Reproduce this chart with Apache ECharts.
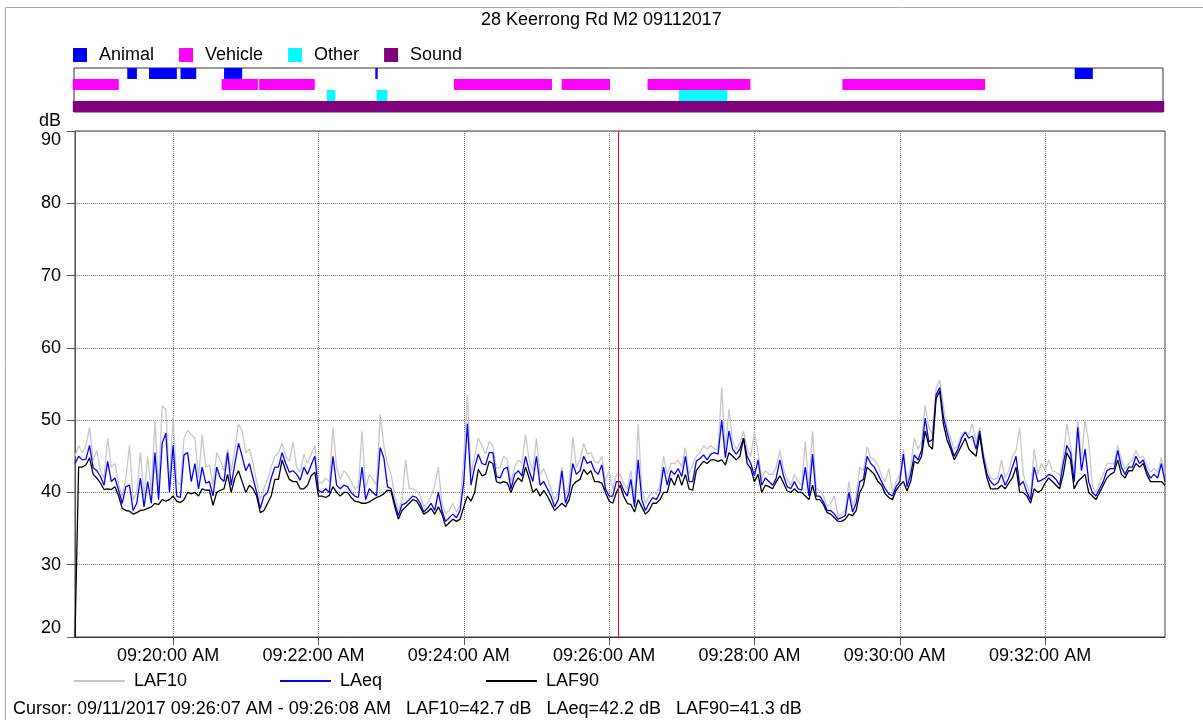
<!DOCTYPE html>
<html>
<head>
<meta charset="utf-8">
<script src="https://cdn.jsdelivr.net/npm/echarts@6/dist/echarts.min.js"></script>
<style>html,body{margin:0;padding:0;background:#fff;}#chart{width:1203px;height:720px;}</style>
</head>
<body>
<div id="chart"></div>
<script>
// ---- data ----
const chartTitle = '28 Keerrong Rd M2 09112017';
const startTime = '09:18:39';
const endTime = '09:33:39';
const stepSeconds = 3;
const yTicks = [20, 30, 40, 50, 60, 70, 80, 90];
const xTickTimes = ['09:20:00', '09:22:00', '09:24:00', '09:26:00', '09:28:00', '09:30:00', '09:32:00'];
const seriesNames = ['LAF10', 'LAeq', 'LAF90'];
const eventCategories = ['Animal', 'Vehicle', 'Other', 'Sound'];

const LAeq = [
44,45,44.5,44.6,46.5,43.4,43,42.2,41,44.3,
41.5,42,40.3,38.5,40.8,41,37.5,38.5,42,38,
41.5,38.5,45.5,39,46.8,48.2,40,46.5,39.5,39.3,
45.2,45.5,41.5,44,40.5,43.5,41.3,41.5,39.5,43.5,
42,41.5,45.5,41,44,46.8,45,43,44,42,
40,37.8,39.5,40,42,43.5,43.5,45.5,44,42.8,
43,42.5,41.7,43.5,42.5,43.8,45,40.3,40,40.5,
40,45,41,40.5,41,40.8,40,39.5,39.3,43.5,
39,40.5,40,39.5,46.2,44.8,40.8,40.5,38.5,36.8,
38.3,38.5,39,39.5,39.3,38.5,37.3,37.8,38.5,37.5,
40,37.5,36,36.5,37,36.5,37.5,41.5,49.5,41,
43.5,45.3,44,43.8,45.5,45.5,42.2,42,43.2,43.5,
40.5,42.5,43,42.3,45,43,41.5,45,41,41.5,
40.5,39.5,38,39,43,38.5,40,44,42.5,43,
45,44,44.3,43,42.5,43.8,40.5,39.5,39.5,41.5,
41.5,40.3,39.5,41.8,38,44.5,39,37.5,38.5,39.3,
39,40,43.5,41,43,42.5,43.3,42.2,45,41.5,
41.5,44.3,44.7,45.2,44.5,45.3,45.5,45.3,50,44.8,
48.5,46,45.3,46,47.5,45,44,42.3,44.5,41,
42,41.5,41,42,44.5,42.3,40.8,40.5,41.5,40.5,
40.3,43.5,39.5,45.3,39.5,39.5,38.7,37.5,37.5,37,
36.3,36.5,36.8,40,37.3,38.5,41.5,41.8,45,44,
43.5,42.5,41.5,40.5,39.8,39.5,40.8,41.5,45.3,40.8,
42.5,45.2,44.5,45.8,50.3,47,47.3,53.5,54.5,50.5,
48.3,46.5,45,46,47.5,48.3,47.5,47.8,46,48.5,
45,42.5,41.5,41,41.3,42.5,41,42,43.5,45,
41,41.5,40,39,43.5,41.5,41.7,42,42.5,42.3,
41.8,41,44,46.5,45.5,41.5,49,43,46,41.5,
40,39.5,40.5,41.5,43,43.3,43.3,45.8,43.5,42.5,
43.5,43.5,45,44,44.5,43,42,42.5,42,44,41.5
];

const LAF90 = [
20,43.5,43.5,43.8,44.8,42.5,42,41.3,40.4,40.5,
40.4,40.8,39.5,37.8,37.5,37.4,37,37.2,37.5,37.6,
37.8,38,38.5,38.3,39,38.8,39,39.5,38.8,38.6,
39,40,39.8,40,39.5,40.5,40.3,40.3,38.2,40,
40.3,40.5,42.5,40,42,43,41.5,40,41,40.5,
39.5,37.2,37.5,38.5,39.5,41.8,41.8,44.5,43,41.8,
41.5,41.5,40.5,40.5,41,42.3,42.8,39.5,39.5,39.3,
39.6,40.8,40,39.5,40,40,39.3,38.8,38.7,38.5,
38.5,38.7,39,39.3,39.5,39.8,40.3,40.2,38,36.3,
37.5,38,38.5,39,38.8,38,37,37.3,37.8,37,
38,37,35.3,35.8,36.3,36,36.3,38,39.5,38.8,
40,43.2,42.3,42.5,44.3,44,41.5,41.3,41.5,41.3,
40,41.3,42,41.5,43.5,42,40,40.5,39.5,40.3,
39.5,38.5,37.5,38,38.5,38,39,41,41.5,41.8,
43.2,42.5,43,41.5,41.5,41.3,40,38.8,38.5,40,
41,39.5,38.5,38.3,37.3,39,38,37,37.5,38.5,
38.5,39,40,40,42,41,42.5,41,42.5,40.5,
40.3,43,43.7,44.3,44,44.5,44.5,44.3,44.5,43.8,
45.5,45,44.5,45,47.5,44,43.3,41.5,42.5,40,
41,40.8,40.5,41.5,42.3,41.3,40.2,40,40.5,40,
40,39.5,39,41,39,39,38.3,37.2,37,36.5,
36,36,36.3,37,36.8,37.5,40,41,43.5,43,
42.5,41.5,41,39.8,39.3,39,40.3,41,41.5,40.2,
41.5,44.3,44,45,48.5,46.5,46,53,54,49.5,
47.3,46,44.5,45.5,46.5,47.5,46,45.5,45,48,
44.5,42,40.5,40.5,40.5,41,40.5,41.3,42,43.5,
40,40,39.5,38.5,40.5,40,40.3,41.3,42,41.5,
41,40.5,42.5,45.5,44.5,40.5,41.5,42,42.5,40,
39.5,39,40,41,42,42.5,42.8,44.5,42.5,42,
43,43,44,43.5,44,42.5,41.5,41.5,41.5,41.5,41
];

const LAF10 = [
45,46.5,45.5,46.5,49,44.5,45.8,43,42,47.5,
43.5,44,41,39.5,42,46.5,39,40,45.5,39.5,
45,40,50,40.5,52,51.5,41,50.5,41.5,41,
47.5,48.6,48,47.5,42,48,43.5,43.8,41,45.5,
44.5,43,46,43,46,49.5,48.5,45.5,46,44,
41.5,39,40.5,41.8,43.5,45,45.5,46.8,45,44.3,
47,43.5,42.8,45.3,44,45.3,46.5,41.5,41.3,42,
41.5,49,43.5,41.8,43,42.5,41.5,40.5,40.8,48.5,
40.5,42.5,41.8,41,50.8,46.5,44,42.5,39.5,37.5,
39,44.5,40.5,40.5,40.2,39.5,38,38.5,39.5,41,
43.5,38.5,37,37.5,38.5,37.3,38.3,44.8,53.5,42.5,
45,47.5,46.5,45.3,47,46.5,43.3,43.5,45,44.5,
41.5,43.5,44.5,44,48,44.5,43,47.5,42.5,43.3,
42,40.5,39,40,43.5,39.5,41,47.7,43.5,44.5,
46.8,45.3,45.5,44.3,44,45,41.5,43,40.5,42.5,
42.5,41.3,40.5,43,39,49.5,40.5,38.5,39.5,40,
39.8,41,45,42.5,44,44,44.5,43.5,46.2,42.5,
43.8,45,45.5,46.5,46,46.5,46,46,54.5,46,
51.5,47,46,46.8,48.5,46,45,48.5,45.5,42,
43,42.5,42.5,43.5,45.8,43.3,41.8,41,42.5,41.5,
41,47,40.5,48.5,40.5,40.3,39.5,38,38.5,39.5,
36.8,37,37.5,41.5,38,39.5,43.5,43,46.3,44.8,
44.5,43.8,42.3,41.5,43.3,40,41.5,42.5,46,41.5,
43.5,47.5,46,47,52,49,48,54.5,55.5,52,
49,47.5,46,46.5,48,48.5,48,49.5,47,49,
45.5,43.5,42,41.8,42,44.5,42,43,45,45.8,
49,42.5,41,39.5,46,42.5,44,43,44.5,43,
42.8,42.3,45,49.5,46.5,42.5,50,44.5,50,47,
41,40,41.3,42.5,44,44,44,46.5,44.5,43.3,
44,44.5,45.8,44.8,45,43.8,42.8,43.3,42.8,44.8,42.5
];

// events: [start, end]
const animalEvents = [['09:19:23','09:19:31'],['09:19:41','09:20:04'],['09:20:07','09:20:20'],['09:20:43','09:20:58'],['09:22:48','09:22:50'],['09:32:26','09:32:41']];
const vehicleEvents = [['09:18:38','09:19:16'],['09:20:41','09:21:11'],['09:21:12','09:21:58'],['09:23:53','09:25:14'],['09:25:22','09:26:02'],['09:26:33','09:27:58'],['09:29:14','09:31:12']];
const otherEvents = [['09:22:08','09:22:15'],['09:22:49','09:22:58'],['09:26:59','09:27:39']];
const soundEvents = [['09:18:38','09:33:40']];

const cursorStart = '09:26:07';
const cursorEnd = '09:26:08';
const cursorValues = {LAF10: 42.7, LAeq: 42.2, LAF90: 41.3};
const cursorDate = '09/11/2017';

// ---- helpers ----
function toSec(s) { const p = s.split(':').map(Number); return p[0] * 3600 + p[1] * 60 + p[2]; }
function pad(n) { return (n < 10 ? '0' : '') + n; }
function fmtTime(sec) {
  sec = Math.round(sec);
  let h = Math.floor(sec / 3600), m = Math.floor((sec % 3600) / 60), s = sec % 60;
  const ap = h < 12 ? 'AM' : 'PM';
  let h12 = h % 12; if (h12 === 0) h12 = 12;
  return pad(h12) + ':' + pad(m) + ':' + pad(s) + ' ' + ap;
}
const t0 = toSec(startTime), t1 = toSec(endTime);
const xTicks = xTickTimes.map(toSec);
function toSeries(arr) { return arr.map((v, i) => [t0 + i * stepSeconds, v]); }
function toEvents(cat, list) { return list.map(e => [cat, toSec(e[0]), toSec(e[1])]); }

const FONT = "'Liberation Sans', Arial, sans-serif";
const colors = {Animal: '#0000ff', Vehicle: '#ff00ff', Other: '#00ffff', Sound: '#800080'};

function renderEvent(params, api) {
  const a = api.coord([api.value(1), api.value(0)]);
  const b = api.coord([api.value(2), api.value(0)]);
  const h = api.size([0, 1])[1];
  return {type: 'rect', shape: {x: a[0], y: a[1] - h / 2, width: Math.max(b[0] - a[0], 1.5), height: h}, style: api.style()};
}

const eventSeries = [
  ['Animal', animalEvents], ['Vehicle', vehicleEvents], ['Other', otherEvents], ['Sound', soundEvents]
].map(([name, list]) => ({
  name, type: 'custom', xAxisIndex: 1, yAxisIndex: 1, renderItem: renderEvent,
  itemStyle: {color: colors[name]}, encode: {x: [1, 2], y: 0},
  data: toEvents(name, list), clip: false, silent: true
}));

const cursorX = (toSec(cursorStart) + toSec(cursorEnd)) / 2;
const cursorText = 'Cursor: ' + cursorDate + ' ' + fmtTime(toSec(cursorStart)) + ' - ' + fmtTime(toSec(cursorEnd)) +
  '   LAF10=' + cursorValues.LAF10.toFixed(1) + ' dB   LAeq=' + cursorValues.LAeq.toFixed(1) + ' dB   LAF90=' + cursorValues.LAF90.toFixed(1) + ' dB';

const chart = echarts.init(document.getElementById('chart'), null, {renderer: 'canvas'});
const lineLegend = (name, left) => ({
  data: [name], left, top: 672, padding: 0, icon: 'rect', itemWidth: 51, itemHeight: 2, selectedMode: false,
  textStyle: {fontSize: 18, color: '#000', fontFamily: FONT, padding: [0, 0, 0, 4]}
});
const gridLineStyle = {color: '#7a7a7a', type: 'dotted', width: 1};

chart.setOption({
  animation: false,
  backgroundColor: '#fff',
  title: {text: chartTitle, left: 481, top: 11, padding: 0,
    textStyle: {fontSize: 18, fontWeight: 'normal', color: '#000', fontFamily: FONT}},
  legend: [
    {data: eventCategories, left: 73, top: 46, padding: 0, icon: 'rect', itemWidth: 14, itemHeight: 14, itemGap: 25, selectedMode: false,
      textStyle: {fontSize: 18, color: '#000', fontFamily: FONT, padding: [0, 0, 0, 7]}},
    lineLegend('LAF10', 74), lineLegend('LAeq', 280), lineLegend('LAF90', 486)
  ],
  graphic: [
    {type: 'line', shape: {x1: 5.5, y1: 7.5, x2: 1203, y2: 7.5}, style: {stroke: '#a8a8a8', lineWidth: 1}, silent: true},
    {type: 'line', shape: {x1: 5.5, y1: 7.5, x2: 5.5, y2: 720}, style: {stroke: '#a8a8a8', lineWidth: 1}, silent: true},
    {type: 'text', left: 13, top: 700, style: {text: cursorText, fontSize: 18, fill: '#000', fontFamily: FONT}, silent: true}
  ],
  grid: [
    {left: 75, right: 38, top: 131, bottom: 83, show: true, borderColor: '#404040', borderWidth: 1, containLabel: false},
    {left: 74, right: 40, top: 68, height: 44, show: true, borderColor: '#333', borderWidth: 1, containLabel: false}
  ],
  xAxis: [
    {type: 'value', gridIndex: 0, min: t0, max: t1,
      axisLine: {show: true, lineStyle: {color: '#333', width: 1}},
      axisTick: {show: true, inside: false, length: 8, lineStyle: {color: '#555'}, customValues: xTicks},
      axisLabel: {show: true, customValues: xTicks, margin: 10, fontSize: 18, color: '#000', fontFamily: FONT,
        padding: [0, 10, 0, 0], formatter: v => fmtTime(v)},
      splitLine: {show: true, lineStyle: gridLineStyle}},
    {type: 'value', gridIndex: 1, min: t0, max: t1, show: false}
  ],
  yAxis: [
    {type: 'value', gridIndex: 0, min: yTicks[0], max: yTicks[yTicks.length - 1], interval: yTicks[1] - yTicks[0],
      name: 'dB', nameLocation: 'end', nameGap: 10,
      nameTextStyle: {fontSize: 18, color: '#000', fontFamily: FONT, align: 'right', verticalAlign: 'middle', padding: [0, 14, 0, 0]},
      axisLine: {show: true, lineStyle: {color: '#555', width: 1}},
      axisTick: {show: true, inside: false, length: 8, lineStyle: {color: '#555'}},
      axisLabel: {margin: 14, fontSize: 18, color: '#000', fontFamily: FONT, verticalAlignMaxLabel: 'top', verticalAlignMinLabel: 'bottom'},
      splitLine: {show: true, lineStyle: gridLineStyle}},
    {type: 'category', gridIndex: 1, data: eventCategories, inverse: true, show: false}
  ],
  series: [
    {name: 'LAF10', type: 'line', data: toSeries(LAF10), showSymbol: false, symbol: 'none', z: 2,
      itemStyle: {color: '#c8c8c8'}, lineStyle: {color: '#c8c8c8', width: 1.3}, silent: true},
    {name: 'LAeq', type: 'line', data: toSeries(LAeq), showSymbol: false, symbol: 'none', z: 3,
      itemStyle: {color: '#0000ff'}, lineStyle: {color: '#0000ff', width: 1.3}, silent: true,
      markLine: {silent: true, symbol: ['none', 'none'], label: {show: false},
        lineStyle: {color: '#ff0000', width: 1, type: 'solid'}, data: [{xAxis: cursorX}]}},
    {name: 'LAF90', type: 'line', data: toSeries(LAF90), showSymbol: false, symbol: 'none', z: 4,
      itemStyle: {color: '#000000'}, lineStyle: {color: '#000000', width: 1.3}, silent: true},
    ...eventSeries
  ]
});
</script>
</body>
</html>
